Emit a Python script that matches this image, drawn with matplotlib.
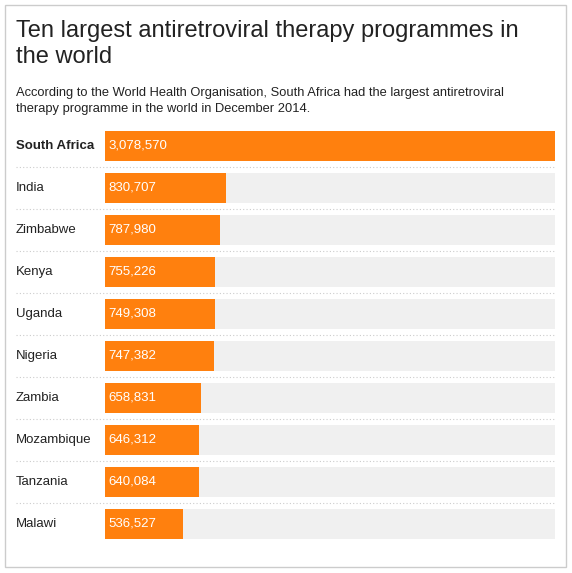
import matplotlib.pyplot as plt
from matplotlib.patches import Rectangle

countries = ["South Africa", "India", "Zimbabwe", "Kenya", "Uganda", "Nigeria",
             "Zambia", "Mozambique", "Tanzania", "Malawi"]
patients = [3078570, 830707, 787980, 755226, 749308, 747382,
            658831, 646312, 640084, 536527]

W, H = 572, 573
fig = plt.figure(figsize=(W / 100, H / 100), dpi=100)
plt.rcParams["font.family"] = ["Liberation Sans", "DejaVu Sans"]

# outer border
fig.patches.append(Rectangle((5 / W, 1 - 567 / H), 561 / W, 562 / H, transform=fig.transFigure,
                             fill=False, edgecolor="#cccccc", linewidth=1))

fig.text(16 / W, 1 - 44 / H, "Ten largest antiretroviral therapy programmes in\nthe world",
         fontsize=17, va="center", ha="left", color="#222222", linespacing=1.2)
fig.text(16 / W, 1 - 101 / H,
         "According to the World Health Organisation, South Africa had the largest antiretroviral\n"
         "therapy programme in the world in December 2014.",
         fontsize=9.3, va="center", ha="left", color="#222222", linespacing=1.45)

left, right, top, bottom = 105, 555, 125, 545
ax = fig.add_axes([left / W, 1 - bottom / H, (right - left) / W, (bottom - top) / H])
vmax = max(patients)
n = len(countries)
ypos = list(range(n))
ax.barh(ypos, [vmax] * n, height=0.72, color="#f0f0f0")
ax.barh(ypos, patients, height=0.72, color="#ff800e")
ax.set_xlim(0, vmax)
ax.set_ylim(n - 0.5, -0.5)
ax.axis("off")

lx = (16 - left) / (right - left)
for i, (c, v) in enumerate(zip(countries, patients)):
    ax.text(lx, i, c, transform=ax.get_yaxis_transform(), va="center", ha="left",
            fontsize=9.5, color="#222222", fontweight="bold" if i == 0 else "normal")
    ax.text(vmax * 0.008, i, f"{v:,}", va="center", ha="left", fontsize=9.5, color="white")
    if i < n - 1:
        ax.plot([lx, 1], [i + 0.5, i + 0.5], transform=ax.get_yaxis_transform(),
                color="#cccccc", linestyle=(0, (1, 2)), linewidth=0.8, clip_on=False)

fig.savefig("out.png", dpi=100)
